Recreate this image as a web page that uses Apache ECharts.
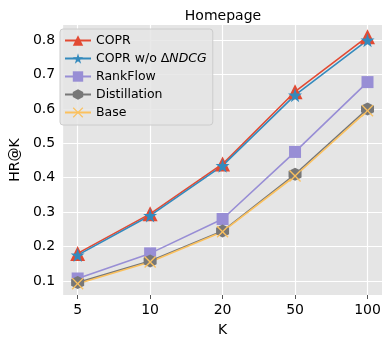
<!DOCTYPE html>
<html>
<head>
<meta charset="utf-8">
<script src="https://cdn.jsdelivr.net/npm/echarts@6/dist/echarts.min.js"></script>
<style>
  html, body { margin: 0; padding: 0; background: #fff; }
  #chart { width: 390px; height: 342px; }
</style>
</head>
<body>
<div id="chart"></div>
<script>
// K values (drawn at evenly spaced positions)
const kLabels = ['5', '10', '20', '50', '100']
const coprValues = [0.18, 0.295, 0.44, 0.65, 0.81]
const coprNoNdcgValues = [0.175, 0.29, 0.435, 0.64, 0.80]
const rankFlowValues = [0.107, 0.18, 0.28, 0.475, 0.678]
const distillationValues = [0.095, 0.158, 0.245, 0.41, 0.60]
const baseValues = [0.092, 0.155, 0.243, 0.405, 0.595]
const yTicks = [0.1, 0.2, 0.3, 0.4, 0.5, 0.6, 0.7, 0.8]

const starPath = 'path://M50,0 L61,35 L98,35 L68,57 L79,91 L50,70 L21,91 L32,57 L2,35 L39,35 Z'
const hexPath = 'path://M50,0 L93,25 L93,75 L50,100 L7,75 L7,25 Z'
const crossPath = 'path://M8,0 L50,42 L92,0 L100,8 L58,50 L100,92 L92,100 L50,58 L8,100 L0,92 L42,50 L0,8 Z'

function pts (vals) {
    return vals.map((v, i) => [i, v])
}

function makeSeries (name, color, symbol, size, vals) {
    return {
        name: name,
        type: 'line',
        z: 3,
        data: pts(vals),
        symbol: symbol,
        symbolSize: size,
        showAllSymbol: true,
        lineStyle: { color: color, width: 1.6 },
        itemStyle: { color: color },
        emphasis: { disabled: true },
        animation: false
    }
}

const chart = echarts.init(document.getElementById('chart'))
const option = {
    backgroundColor: '#fff',
    title: {
        text: 'Homepage',
        left: 218,
        top: 4,
        textAlign: 'center',
        textStyle: { fontFamily: 'DejaVu Sans', fontSize: 14, fontWeight: 'normal', color: '#000' }
    },
    grid: { left: 55, right: 8, top: 25, bottom: 47, show: true, backgroundColor: '#E5E5E5', borderWidth: 0 },
    legend: {
        left: 60,
        top: 29,
        orient: 'vertical',
        itemGap: 5,
        itemWidth: 26,
        itemHeight: 13,
        padding: [5, 6, 6, 4],
        backgroundColor: 'rgba(229,229,229,0.85)',
        borderColor: '#cccccc',
        borderWidth: 1,
        borderRadius: 3,
        textStyle: {
            fontFamily: 'DejaVu Sans',
            fontSize: 12.5,
            color: '#000',
            rich: {
                it: { fontFamily: 'DejaVu Sans', fontSize: 12.5, fontStyle: 'italic', color: '#000' }
            }
        },
        formatter: function (name) {
            if (name === 'COPR w/o ΔNDCG') return 'COPR w/o Δ{it|NDCG}'
            return name
        },
        data: ['COPR', 'COPR w/o ΔNDCG', 'RankFlow', 'Distillation', 'Base']
    },
    xAxis: {
        type: 'value',
        min: -0.2,
        max: 4.2,
        interval: 1,
        name: 'K',
        nameLocation: 'middle',
        nameGap: 28,
        nameTextStyle: { fontFamily: 'DejaVu Sans', fontSize: 14, color: '#000' },
        axisLine: { show: false },
        axisTick: { show: true, length: 4, lineStyle: { color: '#555' }, customValues: [0, 1, 2, 3, 4] },
        axisLabel: {
            fontFamily: 'DejaVu Sans', fontSize: 14, color: '#000', margin: 8,
            customValues: [0, 1, 2, 3, 4],
            formatter: function (v) { return kLabels[Math.round(v)] }
        },
        splitLine: { show: true, lineStyle: { color: '#fff', width: 1.2 } }
    },
    yAxis: {
        type: 'value',
        min: 0.059,
        max: 0.844,
        name: 'HR@K',
        nameLocation: 'middle',
        nameGap: 38,
        nameTextStyle: { fontFamily: 'DejaVu Sans', fontSize: 14, color: '#000' },
        axisLine: { show: false },
        axisTick: { show: true, length: 4, lineStyle: { color: '#555' }, customValues: yTicks },
        axisLabel: {
            fontFamily: 'DejaVu Sans', fontSize: 14, color: '#000', margin: 8,
            customValues: yTicks,
            formatter: function (v) { return v.toFixed(1) }
        },
        splitLine: { show: false }
    },
    series: [
        makeSeries('COPR', '#E24A33', 'triangle', 15, coprValues),
        makeSeries('COPR w/o ΔNDCG', '#348ABD', starPath, 14, coprNoNdcgValues),
        makeSeries('RankFlow', '#988ED5', 'rect', 12, rankFlowValues),
        makeSeries('Distillation', '#777777', hexPath, 13, distillationValues),
        makeSeries('Base', '#FBC15E', crossPath, 12, baseValues),
        {
            type: 'line',
            silent: true,
            z: 1,
            data: [],
            markLine: {
                silent: true,
                z: 1,
                symbol: 'none',
                label: { show: false },
                lineStyle: { color: '#fff', width: 1.2, type: 'solid' },
                data: yTicks.map(v => ({ yAxis: v }))
            }
        }
    ]
}
chart.setOption(option)
</script>
</body>
</html>
